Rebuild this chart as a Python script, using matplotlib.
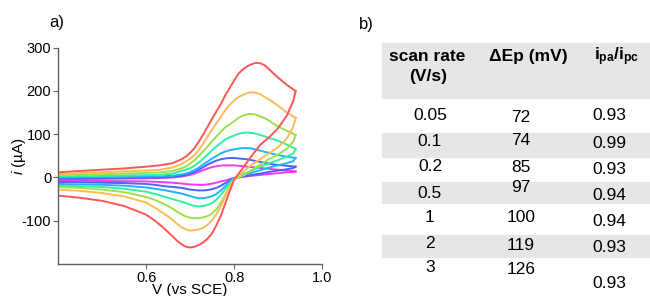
import numpy as np
import matplotlib
matplotlib.use('Agg')
import matplotlib.pyplot as plt
from matplotlib.patches import Rectangle

plt.rcParams['font.family'] = ['Liberation Sans', 'DejaVu Sans']
plt.rcParams['mathtext.fontset'] = 'custom'
plt.rcParams['mathtext.rm'] = 'Liberation Sans'
plt.rcParams['mathtext.it'] = 'Liberation Sans:italic'
plt.rcParams['mathtext.bf'] = 'Liberation Sans:bold'
plt.rcParams['axes.unicode_minus'] = False

# ---- CV data (V vs SCE, uA) ----
x_fwd = [0.40, 0.45, 0.50, 0.55, 0.60, 0.63, 0.66, 0.68, 0.69, 0.70,
         0.71, 0.72, 0.73, 0.74, 0.75, 0.76, 0.77, 0.78, 0.79, 0.80,
         0.81, 0.82, 0.83, 0.84, 0.85, 0.86, 0.87, 0.88, 0.89, 0.90,
         0.92, 0.94]
x_rev = [0.94, 0.935, 0.92, 0.90, 0.88, 0.86, 0.84, 0.82, 0.80, 0.79,
         0.78, 0.77, 0.76, 0.75, 0.74, 0.73, 0.72, 0.71, 0.70, 0.69,
         0.68, 0.67, 0.66, 0.64, 0.62, 0.60, 0.55, 0.50, 0.45, 0.40]

# 3 V/s
red_fwd = [12, 15, 18, 21, 25, 28, 33, 42, 48, 57,
           68, 83, 100, 118, 136, 153, 170, 190, 207, 224,
           240, 250, 257, 262, 265, 264, 259, 250, 240, 231,
           214, 200]
red_rev = [200, 178, 143, 114, 93, 76, 50, 22, -5, -32,
           -60, -88, -110, -129, -141, -150, -156, -160, -162, -160,
           -154, -146, -136, -117, -100, -86, -66, -54, -47, -42]
# 2 V/s
orange_fwd = [8, 10, 12, 14, 16, 17.5, 23, 31, 37, 43,
              52, 64, 79, 95, 111, 126, 141, 156, 168, 178,
              186, 191, 195, 197, 196, 192, 186, 180, 173, 166,
              150, 138]
orange_rev = [138, 118, 90, 70, 56, 43, 30, 12, -5, -22,
              -44, -66, -84, -99, -109, -116, -120, -122, -123, -120,
              -115, -107, -98, -83, -70, -58, -44, -36, -31, -28]
# 1 V/s
green_fwd = [5.5, 6.5, 7.5, 9, 10.5, 11.5, 15, 21, 25, 32,
             40, 50, 61, 72, 84, 95, 106, 116, 123, 130,
             138, 143, 146, 147, 145, 141, 137, 131, 124, 118,
             108, 98]
green_rev = [98, 84, 66, 53, 43, 30, 17, 4, -5, -20,
             -40, -58, -73, -83, -89, -92, -94, -94, -93, -90,
             -85, -79, -72, -61, -52, -45, -34, -28, -24, -22]
# 0.5 V/s
mint_fwd = [2.3, 3, 3.5, 4.5, 5.5, 6, 9, 15, 18, 22,
            27, 35, 44, 53, 63, 72, 80, 88, 93, 97,
            101, 103, 104, 103, 101, 98, 95, 91, 88, 85,
            76, 66]
mint_rev = [66, 56, 48, 40, 33, 25, 16, 7, -3, -13,
            -27, -40, -51, -59, -63, -66, -67, -66, -63, -59,
            -56, -53, -50, -44, -38, -33, -26, -22, -20, -19]
# 0.2 V/s
sky_fwd = [0, 0.5, 1, 1.5, 2, 2.5, 4, 7, 9, 12,
           17, 23, 30, 37, 44, 50, 56, 60, 63, 65,
           67, 68, 68, 67, 64, 62, 59, 57, 54, 52,
           48, 45]
sky_rev = [45, 38, 33, 28, 23, 17, 11, 5, -2, -10,
           -20, -30, -38, -43, -46, -48, -48, -46, -43, -40,
           -37, -35, -33, -29, -26, -23, -19, -17, -16, -15]
# 0.1 V/s
blue_fwd = [-2.3, -2, -1.5, -1, -0.5, 0, 1.5, 4, 6, 9,
            13, 18, 24, 30, 35, 39, 42, 44, 45, 45,
            44, 43, 42, 40, 38, 36, 34, 32, 30, 29,
            27, 25]
blue_rev = [25, 22, 19, 16, 13, 9, 6, 2, -1.5, -7,
            -13, -19, -24, -27, -29, -30, -30, -29, -28, -26,
            -24, -23, -22, -20, -17, -15, -13, -12, -11, -10.5]
# 0.05 V/s
magenta_fwd = [-3.8, -3.5, -3, -2.5, -2, -1.5, 0, 2, 4, 6,
               9, 13, 17, 21, 24, 26, 27.5, 28, 28, 28,
               27, 26, 25, 24, 23, 22, 21, 20, 19, 18,
               16, 14]
magenta_rev = [14, 13, 12, 10, 8, 6, 4, 1.5, -1, -4,
               -7, -9, -12, -14, -16, -17, -17, -16.5, -16, -15,
               -14, -13, -12, -11, -10, -9, -8.5, -8, -7.5, -7.5]

curves = [
    (magenta_fwd, magenta_rev, '#f03cf0'),
    (blue_fwd, blue_rev, '#4a62ff'),
    (sky_fwd, sky_rev, '#22b2ff'),
    (mint_fwd, mint_rev, '#2ef2a0'),
    (green_fwd, green_rev, '#9ae24c'),
    (orange_fwd, orange_rev, '#ffbb55'),
    (red_fwd, red_rev, '#ff5656'),
]

# ---- table data ----
scan_rate = ['0.05', '0.1', '0.2', '0.5', '1', '2', '3']
delta_ep = ['72', '74', '85', '97', '100', '119', '126']
ipa_ipc = ['0.93', '0.99', '0.93', '0.94', '0.94', '0.93', '0.93']

W, H = 650, 296
fig = plt.figure(figsize=(W / 100, H / 100), dpi=100)


def fx(px):
    return px / W


def fy(py):
    return 1 - py / H


# ---- panel a) ----
ax = fig.add_axes([fx(58.3), fy(264), fx(322) - fx(58.3), fy(47.7) - fy(264)])
for fwd, rev, col in curves:
    ax.plot(x_fwd, fwd, color=col, lw=1.4, solid_joinstyle='round')
    ax.plot(x_rev, rev, color=col, lw=1.4, solid_joinstyle='round')

ax.set_xlim(0.4, 1.0)
ax.set_ylim(-200, 300)
ax.set_xticks([0.6, 0.8, 1.0])
ax.set_xticklabels(['0.6', '0.8', '1.0'])
ax.set_yticks([-100, 0, 100, 200, 300])
for s in ['top', 'right']:
    ax.spines[s].set_visible(False)
for s in ['left', 'bottom']:
    ax.spines[s].set_color('#606060')
    ax.spines[s].set_linewidth(1.0)
ax.tick_params(direction='out', length=3.5, width=0.8, color='#606060',
               labelsize=10.5, pad=1.5)
ax.set_xlabel('V (vs SCE)', fontsize=11, labelpad=-1.5)
ax.set_ylabel(r'$\mathit{i}$ (µA)', fontsize=11)
ax.yaxis.set_label_coords(-0.115, 0.5)
fig.text(fx(57), fy(23), 'a)', fontsize=12, ha='center', va='center')

# ---- panel b) table ----
fig.text(fx(366), fy(25), 'b)', fontsize=12, ha='center', va='center')
band = '#e6e6e6'
fig.patches.append(Rectangle((fx(381.7), fy(98.3)), fx(650) - fx(381.7), fy(43.3) - fy(98.3),
                             transform=fig.transFigure, color=band, zorder=0))
for y0, y1 in [(133, 157), (182, 203), (235, 257)]:
    fig.patches.append(Rectangle((fx(381.7), fy(y1)), fx(650) - fx(381.7), fy(y0) - fy(y1),
                                 transform=fig.transFigure, color=band, zorder=0))

hkw = dict(fontsize=12.5, fontweight='bold', ha='center', va='center')
fig.text(fx(427), fy(56), 'scan rate', **hkw)
fig.text(fx(428), fy(76), '(V/s)', **hkw)
fig.text(fx(528), fy(56), 'ΔEp (mV)', **hkw)
fig.text(fx(617), fy(57), r'$\mathbf{i_{pa}/i_{pc}}$', **hkw)

col1_y = [115, 141.7, 166.7, 193.3, 218, 243, 268]
col2_y = [117, 140, 167, 188, 218, 245, 270]
col3_y = [116, 144, 170, 195, 222, 247, 283]
vkw = dict(fontsize=12.5, ha='center', va='center')
for i in range(len(scan_rate)):
    fig.text(fx(430), fy(col1_y[i]), scan_rate[i], **vkw)
    fig.text(fx(521), fy(col2_y[i]), delta_ep[i], **vkw)
    fig.text(fx(609), fy(col3_y[i]), ipa_ipc[i], **vkw)

fig.savefig('out.png', dpi=100)
